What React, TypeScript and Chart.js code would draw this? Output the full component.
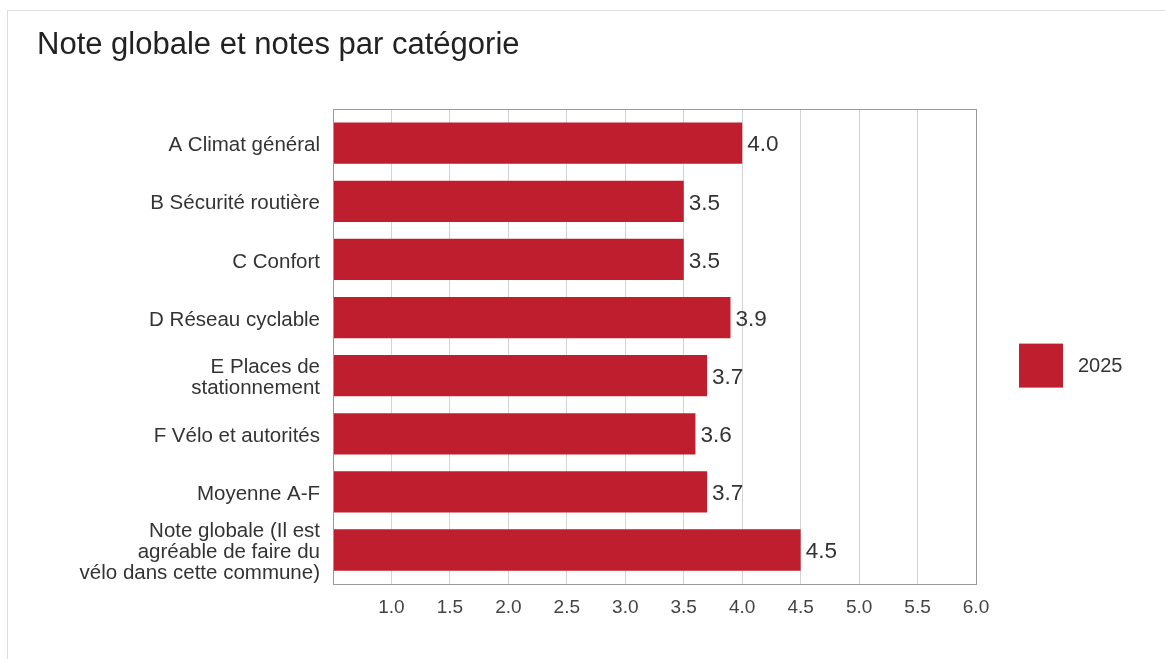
import React, { useEffect, useRef } from "react";
import { Chart, registerables } from "chart.js";

Chart.register(...registerables);

const titleText = "Note globale et notes par catégorie";
const categories: (string | string[])[] = [
  "A Climat général",
  "B Sécurité routière",
  "C Confort",
  "D Réseau cyclable",
  ["E Places de", "stationnement"],
  "F Vélo et autorités",
  "Moyenne A-F",
  ["Note globale (Il est", "agréable de faire du", "vélo dans cette commune)"],
];
const seriesLabel = "2025";
const values = [4.0, 3.5, 3.5, 3.9, 3.7, 3.6, 3.7, 4.5];
const xTickValues = [1.0, 1.5, 2.0, 2.5, 3.0, 3.5, 4.0, 4.5, 5.0, 5.5, 6.0];
const xMin = 0.5;
const xMax = 6.0;

const FONT = "'Liberation Sans', Arial, Helvetica, sans-serif";
const BAR_COLOR = "#BE1E2D";

const categoryPadPlugin = {
  id: "categoryPad",
  afterLayout(chart: any) {
    const s = chart.scales.y;
    const pad = 0.585;
    s._startValue = s.min - pad;
    s._valueRange = s.max - s.min + 2 * pad;
    s._labelItems = null;
  },
};

const framePlugin = {
  id: "frame",
  afterDatasetsDraw(chart: any) {
    const { ctx, chartArea } = chart;
    ctx.save();
    ctx.strokeStyle = "#999999";
    ctx.lineWidth = 1;
    ctx.strokeRect(
      Math.round(chartArea.left) + 0.5,
      Math.round(chartArea.top) + 0.5,
      Math.round(chartArea.right - chartArea.left),
      Math.round(chartArea.bottom - chartArea.top)
    );
    ctx.restore();
  },
};

const valueLabelPlugin = {
  id: "valueLabels",
  afterDatasetsDraw(chart: any) {
    const { ctx } = chart;
    const meta = chart.getDatasetMeta(0);
    ctx.save();
    ctx.font = `22.5px ${FONT}`;
    ctx.fillStyle = "#333333";
    ctx.textAlign = "left";
    ctx.textBaseline = "middle";
    meta.data.forEach((bar: any, i: number) => {
      const v = chart.data.datasets[0].data[i] as number;
      ctx.fillText(v.toFixed(1), bar.x + 5, bar.y + 2);
    });
    ctx.restore();
  },
};

const customLegendPlugin = {
  id: "customLegend",
  afterDraw(chart: any) {
    const { ctx, chartArea } = chart;
    const ds = chart.data.datasets[0];
    const size = 44;
    const x = chartArea.right + 43;
    const cy = (chartArea.top + chartArea.bottom) / 2 + 19;
    ctx.save();
    ctx.fillStyle = ds.backgroundColor;
    ctx.fillRect(x, cy - size / 2, size, size);
    ctx.font = `20px ${FONT}`;
    ctx.fillStyle = "#333333";
    ctx.textAlign = "left";
    ctx.textBaseline = "middle";
    ctx.fillText(ds.label, x + size + 15, cy + 1);
    ctx.restore();
  },
};

function BarChart() {
  const ref = useRef<HTMLCanvasElement | null>(null);
  useEffect(() => {
    if (!ref.current) return;
    const chart = new Chart(ref.current, {
      type: "bar",
      data: {
        labels: categories,
        datasets: [
          {
            label: seriesLabel,
            data: values,
            backgroundColor: BAR_COLOR,
            borderWidth: 0,
            base: xMin,
            categoryPercentage: 1,
            barPercentage: 0.71,
          } as any,
        ],
      },
      options: {
        indexAxis: "y",
        responsive: false,
        animation: false,
        maintainAspectRatio: false,
        layout: { padding: { left: 37, right: 189, top: 0, bottom: 25 } },
        plugins: {
          legend: { display: false },
          tooltip: { enabled: false },
          title: {
            display: true,
            text: titleText,
            align: "start",
            color: "#222222",
            font: { family: FONT, size: 31, weight: "normal" },
            padding: { top: 27, bottom: 45 },
          },
        },
        scales: {
          x: {
            type: "linear",
            min: xMin,
            max: xMax,
            afterBuildTicks: (scale: any) => {
              scale.ticks = xTickValues.map((v) => ({ value: v }));
            },
            afterFit: (scale: any) => {
              scale.height = 50;
            },
            grid: { color: "#d4d4d4", lineWidth: 1, drawTicks: false },
            border: { display: false },
            ticks: {
              padding: 12,
              color: "#444444",
              font: { family: FONT, size: 19 },
              callback: (v: any) => Number(v).toFixed(1),
              maxRotation: 0,
              autoSkip: false,
            },
          },
          y: {
            type: "category",
            offset: true,
            afterFit: (scale: any) => {
              scale.width = 296;
            },
            grid: { display: false, drawTicks: false },
            border: { display: false },
            ticks: {
              padding: 13,
              labelOffset: 2.5,
              color: "#333333",
              font: { family: FONT, size: 20.5, lineHeight: 1.03 },
              autoSkip: false,
            },
          },
        },
      },
      plugins: [categoryPadPlugin, framePlugin, valueLabelPlugin, customLegendPlugin],
    });
    return () => chart.destroy();
  }, []);
  return (
    <canvas
      ref={ref}
      width={1165}
      height={659}
      style={{ position: "fixed", left: 0, top: 0, width: 1165, height: 659 }}
    />
  );
}

export default function App() {
  return (
    <>
      <div
        style={{
          position: "fixed",
          left: 7,
          top: 10,
          width: 1300,
          height: 800,
          border: "1px solid #dddddd",
          boxSizing: "border-box",
          background: "#ffffff",
        }}
      />
      <BarChart />
    </>
  );
}
